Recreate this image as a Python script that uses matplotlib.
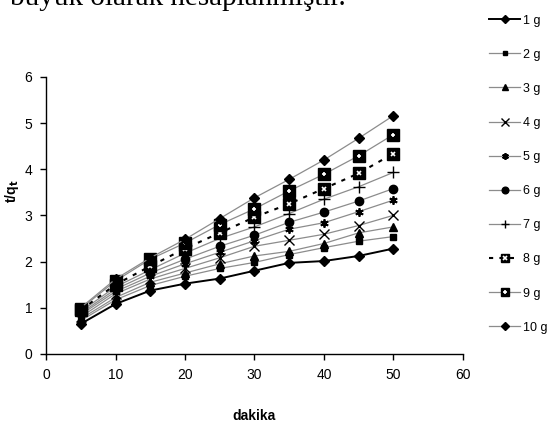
import numpy as np
import matplotlib
matplotlib.use('Agg')
import matplotlib.pyplot as plt
from matplotlib.legend_handler import HandlerTuple

plt.rcParams['font.family'] = ['Liberation Sans', 'DejaVu Sans']

dakika = [5, 10, 15, 20, 25, 30, 35, 40, 45, 50]
labels = ['1 g', '2 g', '3 g', '4 g', '5 g', '6 g', '7 g', '8 g', '9 g', '10 g']

s1 = [0.65, 1.08, 1.37, 1.52, 1.63, 1.80, 1.97, 2.01, 2.12, 2.28]
s2 = [0.72, 1.17, 1.48, 1.68, 1.85, 1.98, 2.15, 2.30, 2.44, 2.54]
s3 = [0.76, 1.22, 1.55, 1.75, 1.95, 2.12, 2.22, 2.39, 2.62, 2.75]
s4 = [0.80, 1.30, 1.62, 1.85, 2.08, 2.33, 2.46, 2.59, 2.78, 3.00]
s5 = [0.85, 1.35, 1.68, 1.95, 2.20, 2.45, 2.70, 2.84, 3.08, 3.33]
s6 = [0.88, 1.40, 1.75, 2.05, 2.33, 2.57, 2.85, 3.07, 3.31, 3.58]
s7 = [0.92, 1.45, 1.82, 2.18, 2.50, 2.75, 3.04, 3.35, 3.62, 3.93]
s8 = [0.95, 1.50, 1.90, 2.28, 2.62, 2.96, 3.25, 3.58, 3.91, 4.34]
s9 = [0.98, 1.58, 2.05, 2.40, 2.80, 3.14, 3.53, 3.89, 4.29, 4.75]
s10 = [1.00, 1.62, 2.08, 2.48, 2.93, 3.38, 3.78, 4.20, 4.67, 5.16]

fig = plt.figure(figsize=(5.49, 4.32), dpi=100)
ax = fig.add_axes([0.084, 0.181, 0.759, 0.641])

gray = '#8c8c8c'
handles = []
h, = ax.plot(dakika, s1, color='black', lw=1.4, marker='D', ms=5, mfc='black', mec='black')
handles.append(h)
h, = ax.plot(dakika, s2, color=gray, lw=0.9, marker='s', ms=4, mfc='black', mec='black')
handles.append(h)
h, = ax.plot(dakika, s3, color=gray, lw=0.9, marker='^', ms=6, mfc='black', mec='black')
handles.append(h)
h, = ax.plot(dakika, s4, color=gray, lw=0.9, marker='x', ms=7, mew=1.0, mec='black')
handles.append(h)
h, = ax.plot(dakika, s5, color=gray, lw=0.9, marker=(6, 2, 0), ms=6, mew=1.3, mec='black')
handles.append(h)
h, = ax.plot(dakika, s6, color=gray, lw=0.9, marker='o', ms=6, mfc='black', mec='black')
handles.append(h)
h, = ax.plot(dakika, s7, color=gray, lw=0.9, marker='+', ms=8, mew=1.0, mec='black')
handles.append(h)
h8a, = ax.plot(dakika, s8, color='black', lw=1.5, ls=(0, (2, 3)), marker='s', ms=8,
               mfc='black', mec='black')
h8b, = ax.plot(dakika, s8, ls='none', marker='x', ms=3.5, mew=1.2, mec='white')
handles.append((h8a, h8b))
h9a, = ax.plot(dakika, s9, color=gray, lw=0.9, marker='s', ms=8, mfc='black', mec='black')
h9b, = ax.plot(dakika, s9, ls='none', marker='+', ms=3.5, mew=1.2, mec='white')
handles.append((h9a, h9b))
h, = ax.plot(dakika, s10, color=gray, lw=0.9, marker='D', ms=5.5, mfc='black', mec='black')
handles.append(h)

ax.set_xlim(0, 60)
ax.set_ylim(0, 6)
ax.set_xticks(range(0, 61, 10))
ax.set_yticks(range(0, 7))
ax.spines['top'].set_visible(False)
ax.spines['right'].set_visible(False)
ax.spines['left'].set_linewidth(1.0)
ax.spines['bottom'].set_linewidth(1.0)
ax.tick_params(direction='out', length=4, width=1.0, labelsize=10, pad=6)
ax.set_xlabel('dakika', fontsize=10, fontweight='bold', labelpad=20)
ax.set_ylabel('t/q$_\\mathbf{t}$', fontsize=10, fontweight='bold')
ax.yaxis.set_label_coords(-0.06, 0.588)

leg = fig.legend(handles, labels, loc='upper left', bbox_to_anchor=(0.882, 0.978),
                 frameon=False, fontsize=9, handlelength=2.5, handletextpad=0.2,
                 labelspacing=1.77, borderaxespad=0, markerscale=0.8,
                 handler_map={tuple: HandlerTuple(ndivide=1)})

fig.text(0.018, 1 - 5 / 432, 'büyük olarak hesaplanmıştır.', fontsize=21,
         family=['Liberation Serif', 'DejaVu Serif'], va='baseline', ha='left')

fig.savefig('out.png', dpi=100)
